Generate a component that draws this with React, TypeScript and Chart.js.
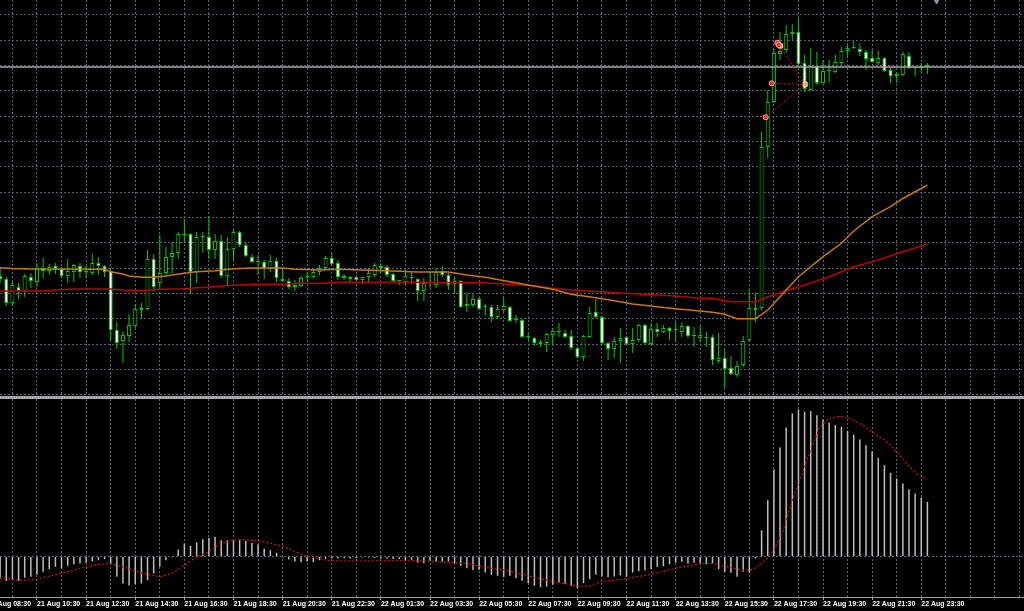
import React, { useEffect, useRef } from 'react';
import { Chart, registerables } from 'chart.js';

Chart.register(...registerables);

// ---------- time axis (15-minute bars; bar index 0 = 21 Aug 09:00) ----------
const LABEL_BARS = [-2, 6, 14, 22, 30, 38, 46, 54, 62, 70, 78, 86, 94, 102, 110, 118, 126, 134, 142, 150];
const TIME_LABELS = [
  '21 Aug 08:30', '21 Aug 10:30', '21 Aug 12:30', '21 Aug 14:30', '21 Aug 16:30',
  '21 Aug 18:30', '21 Aug 20:30', '21 Aug 22:30', '22 Aug 01:30', '22 Aug 03:30',
  '22 Aug 05:30', '22 Aug 07:30', '22 Aug 09:30', '22 Aug 11:30', '22 Aug 13:30',
  '22 Aug 15:30', '22 Aug 17:30', '22 Aug 19:30', '22 Aug 21:30', '22 Aug 23:30',
];

// ---------- candles ----------
const OPEN = [
  1.3120, 1.3117, 1.3093, 1.3109, 1.3105, 1.3119, 1.3114, 1.3128, 1.3125, 1.3130,
  1.3128, 1.3120, 1.3124, 1.3130, 1.3124, 1.3123, 1.3133, 1.3130, 1.3125, 1.3066,
  1.3055, 1.3060, 1.3070, 1.3088, 1.3087, 1.3137, 1.3113, 1.3123, 1.3139, 1.3143,
  1.3162, 1.3162, 1.3124, 1.3159, 1.3159, 1.3146, 1.3155, 1.3120, 1.3147, 1.3164,
  1.3151, 1.3139, 1.3134, 1.3134, 1.3127, 1.3135, 1.3117, 1.3115, 1.3109, 1.3110,
  1.3119, 1.3119, 1.3124, 1.3128, 1.3138, 1.3133, 1.3120, 1.3117, 1.3119, 1.3116,
  1.3119, 1.3121, 1.3130, 1.3129, 1.3122, 1.3115, 1.3114, 1.3118, 1.3117, 1.3105,
  1.3113, 1.3111, 1.3125, 1.3121, 1.3112, 1.3115, 1.3090, 1.3091, 1.3097, 1.3089,
  1.3089, 1.3079, 1.3086, 1.3089, 1.3076, 1.3076, 1.3059, 1.3058, 1.3052, 1.3053,
  1.3061, 1.3064, 1.3063, 1.3060, 1.3048, 1.3039, 1.3059, 1.3084, 1.3079, 1.3053,
  1.3047, 1.3055, 1.3059, 1.3052, 1.3056, 1.3071, 1.3052, 1.3067, 1.3064, 1.3068,
  1.3066, 1.3064, 1.3070, 1.3060, 1.3058, 1.3058, 1.3059, 1.3035, 1.3038, 1.3028,
  1.3021, 1.3031, 1.3056, 1.3086, 1.3088, 1.3249, 1.3294, 1.3342, 1.3346, 1.3362,
  1.3364, 1.3333, 1.3306, 1.3330, 1.3313, 1.3325, 1.3324, 1.3333, 1.3345, 1.3348,
  1.3347, 1.3344, 1.3338, 1.3333, 1.3338, 1.3326, 1.3320, 1.3321, 1.3340, 1.3328,
  1.3328, 1.3331,
];
const HIGH = [
  1.3128, 1.3119, 1.3115, 1.3113, 1.3122, 1.3123, 1.3133, 1.3138, 1.3132, 1.3133,
  1.3129, 1.3137, 1.3132, 1.3133, 1.3130, 1.3142, 1.3139, 1.3131, 1.3126, 1.3074,
  1.3064, 1.3082, 1.3092, 1.3093, 1.3146, 1.3142, 1.3161, 1.3149, 1.3154, 1.3164,
  1.3177, 1.3163, 1.3164, 1.3164, 1.3180, 1.3162, 1.3161, 1.3159, 1.3167, 1.3165,
  1.3153, 1.3142, 1.3141, 1.3136, 1.3141, 1.3138, 1.3128, 1.3118, 1.3116, 1.3120,
  1.3124, 1.3126, 1.3131, 1.3140, 1.3143, 1.3136, 1.3122, 1.3120, 1.3121, 1.3119,
  1.3128, 1.3133, 1.3133, 1.3131, 1.3123, 1.3116, 1.3126, 1.3124, 1.3118, 1.3118,
  1.3124, 1.3128, 1.3130, 1.3123, 1.3118, 1.3116, 1.3103, 1.3102, 1.3099, 1.3092,
  1.3091, 1.3091, 1.3098, 1.3090, 1.3081, 1.3077, 1.3063, 1.3059, 1.3056, 1.3063,
  1.3068, 1.3073, 1.3066, 1.3066, 1.3049, 1.3061, 1.3089, 1.3097, 1.3080, 1.3054,
  1.3059, 1.3068, 1.3060, 1.3068, 1.3072, 1.3072, 1.3073, 1.3073, 1.3071, 1.3069,
  1.3074, 1.3073, 1.3071, 1.3069, 1.3070, 1.3064, 1.3061, 1.3063, 1.3046, 1.3040,
  1.3035, 1.3060, 1.3106, 1.3103, 1.3264, 1.3306, 1.3347, 1.3364, 1.3371, 1.3372,
  1.3378, 1.3341, 1.3348, 1.3344, 1.3336, 1.3336, 1.3341, 1.3349, 1.3353, 1.3355,
  1.3353, 1.3346, 1.3346, 1.3345, 1.3339, 1.3328, 1.3324, 1.3344, 1.3344, 1.3329,
  1.3333, 1.3333,
];
const LOW = [
  1.3113, 1.3090, 1.3090, 1.3097, 1.3099, 1.3108, 1.3109, 1.3118, 1.3121, 1.3122,
  1.3118, 1.3113, 1.3114, 1.3118, 1.3118, 1.3121, 1.3121, 1.3119, 1.3055, 1.3047,
  1.3033, 1.3054, 1.3068, 1.3078, 1.3086, 1.3105, 1.3106, 1.3121, 1.3123, 1.3137,
  1.3153, 1.3102, 1.3113, 1.3143, 1.3137, 1.3137, 1.3118, 1.3111, 1.3136, 1.3149,
  1.3139, 1.3133, 1.3121, 1.3117, 1.3124, 1.3114, 1.3114, 1.3107, 1.3105, 1.3109,
  1.3114, 1.3118, 1.3121, 1.3126, 1.3130, 1.3116, 1.3116, 1.3114, 1.3115, 1.3113,
  1.3114, 1.3119, 1.3123, 1.3119, 1.3114, 1.3111, 1.3111, 1.3114, 1.3095, 1.3095,
  1.3108, 1.3108, 1.3119, 1.3106, 1.3103, 1.3088, 1.3084, 1.3089, 1.3086, 1.3081,
  1.3074, 1.3078, 1.3084, 1.3074, 1.3073, 1.3058, 1.3056, 1.3050, 1.3049, 1.3044,
  1.3051, 1.3059, 1.3058, 1.3046, 1.3038, 1.3035, 1.3058, 1.3078, 1.3051, 1.3036,
  1.3038, 1.3033, 1.3051, 1.3043, 1.3054, 1.3051, 1.3051, 1.3059, 1.3063, 1.3056,
  1.3054, 1.3059, 1.3058, 1.3049, 1.3054, 1.3049, 1.3031, 1.3033, 1.3008, 1.3021,
  1.3019, 1.3029, 1.3054, 1.3074, 1.3086, 1.3238, 1.3293, 1.3336, 1.3343, 1.3356,
  1.3331, 1.3304, 1.3305, 1.3311, 1.3313, 1.3314, 1.3323, 1.3331, 1.3339, 1.3347,
  1.3340, 1.3326, 1.3333, 1.3331, 1.3324, 1.3313, 1.3313, 1.3320, 1.3327, 1.3320,
  1.3324, 1.3322,
];
const CLOSE = [
  1.3117, 1.3093, 1.3111, 1.3105, 1.3120, 1.3115, 1.3128, 1.3125, 1.3129, 1.3127,
  1.3120, 1.3125, 1.3131, 1.3124, 1.3125, 1.3133, 1.3130, 1.3124, 1.3066, 1.3053,
  1.3061, 1.3071, 1.3087, 1.3086, 1.3137, 1.3109, 1.3123, 1.3139, 1.3143, 1.3162,
  1.3161, 1.3124, 1.3159, 1.3159, 1.3146, 1.3155, 1.3120, 1.3147, 1.3164, 1.3151,
  1.3140, 1.3134, 1.3134, 1.3127, 1.3135, 1.3118, 1.3115, 1.3109, 1.3111, 1.3118,
  1.3119, 1.3124, 1.3128, 1.3138, 1.3132, 1.3119, 1.3118, 1.3119, 1.3116, 1.3119,
  1.3123, 1.3131, 1.3128, 1.3121, 1.3115, 1.3115, 1.3120, 1.3118, 1.3105, 1.3113,
  1.3113, 1.3124, 1.3121, 1.3111, 1.3115, 1.3089, 1.3092, 1.3097, 1.3087, 1.3089,
  1.3079, 1.3087, 1.3090, 1.3075, 1.3076, 1.3059, 1.3059, 1.3053, 1.3054, 1.3062,
  1.3065, 1.3064, 1.3059, 1.3048, 1.3039, 1.3060, 1.3083, 1.3079, 1.3053, 1.3047,
  1.3055, 1.3058, 1.3052, 1.3056, 1.3071, 1.3053, 1.3067, 1.3064, 1.3068, 1.3065,
  1.3066, 1.3070, 1.3060, 1.3060, 1.3061, 1.3059, 1.3036, 1.3038, 1.3027, 1.3022,
  1.3030, 1.3055, 1.3088, 1.3088, 1.3249, 1.3294, 1.3343, 1.3345, 1.3362, 1.3364,
  1.3332, 1.3307, 1.3330, 1.3313, 1.3325, 1.3325, 1.3334, 1.3345, 1.3348, 1.3348,
  1.3344, 1.3337, 1.3334, 1.3338, 1.3325, 1.3320, 1.3322, 1.3342, 1.3328, 1.3328,
  1.3330, 1.3329,
];
const BID = 1.3329;

// ---------- moving averages (sampled along the lines) ----------
const MA_FAST_BARS = [0, 2, 5, 17, 18, 20, 21, 23, 25, 27, 29, 32, 35, 38, 41, 46, 48, 52, 55, 63, 68, 73, 76, 79, 83, 86, 90, 93, 97, 100, 103, 107, 110, 114, 116, 118, 120, 123, 125, 127, 130, 134, 137, 139, 142, 145, 147, 151];
const MA_FAST = [
  1.31283, 1.31275, 1.3127, 1.31267, 1.31243, 1.3122, 1.312, 1.31187, 1.31187, 1.312,
  1.3122, 1.31243, 1.31253, 1.31273, 1.3128, 1.3128, 1.31267, 1.3126, 1.31267, 1.31253,
  1.3124, 1.3124, 1.3121, 1.31187, 1.31143, 1.3111, 1.31067, 1.31017, 1.30983, 1.30953,
  1.3092, 1.30893, 1.30873, 1.3085, 1.30837, 1.30817, 1.30773, 1.30773, 1.3086, 1.30993,
  1.31193, 1.31393, 1.31527, 1.3165, 1.31793, 1.31893, 1.31975, 1.3211,
];
const MA_SLOW_BARS = [0, 7, 9, 12, 18, 20, 23, 26, 30, 32, 35, 38, 41, 46, 49, 53, 55, 69, 72, 78, 80, 83, 87, 90, 93, 98, 101, 105, 110, 114, 116, 119, 123, 125, 127, 131, 135, 139, 143, 147, 151];
const MA_SLOW = [
  1.3105, 1.3105, 1.3106, 1.3107, 1.3107, 1.3106, 1.31053, 1.31067, 1.31073, 1.31083,
  1.31093, 1.31107, 1.31117, 1.31117, 1.31127, 1.31127, 1.31137, 1.31137, 1.31133, 1.31133,
  1.31127, 1.31117, 1.311, 1.31077, 1.3106, 1.31043, 1.3103, 1.31017, 1.31, 1.30977,
  1.30977, 1.30943, 1.30943, 1.30993, 1.31033, 1.3111, 1.31193, 1.31293, 1.3136, 1.31443,
  1.31517,
];

// ---------- trade history marks ----------
const TRADE_OPEN_BAR = [124.66, 125.64, 126.56, 126.8];
const TRADE_OPEN_PRICE = [1.32787, 1.33127, 1.33533, 1.3351];
const TRADE_CLOSE_BAR = [131.1, 131.1, 131.1, 127.1];
const TRADE_CLOSE_PRICE = [1.33117, 1.33117, 1.33117, 1.335];
const SHIFT_MARK_BAR = 152.5;

// ---------- MACD (points) ----------
const MACD_HIST = [
  -22, -24.3, -23, -24.3, -21.3, -20.3, -18, -15.3, -12.7, -10.3,
  -12, -9.3, -7.7, -7, -6.3, -4.7, -3.7, -2.7, -7.7, -20.3,
  -27, -29, -27.7, -27, -23.7, -17, -10.3, -3.7, -1, 7,
  13, 10.7, 14, 17.3, 18.7, 19.7, 16.3, 16.3, 15.7, 17,
  15.7, 13.7, 12.3, 7.7, 6.3, 3.7, -1, -3, -5, -5.7,
  -5, -5.7, -3.7, -2.3, -1.7, -2, -1.7, -2, -1.7, -1,
  -1, -1.3, -2, -2, -2.5, -2.5, -4, -3.3, -6, -6.7,
  -4.3, -5, -5, -5, -6.7, -9.3, -11.7, -13.3, -13.3, -16,
  -18.3, -19.3, -20.7, -19.3, -21.7, -24.3, -26.7, -29.3, -30.7, -30,
  -28.3, -26, -27.3, -29.3, -31.7, -26.7, -22.7, -18.3, -20, -20.7,
  -20, -19, -20.5, -16, -14.7, -13.7, -12.7, -10.3, -9.7, -7.7,
  -6, -5.3, -7, -6.3, -7, -7.7, -7, -12.7, -15.3, -16.3,
  -20.3, -15.3, -16.3, -2, 26.3, 56.3, 87, 109, 129, 143,
  147, 144.7, 145.3, 141.3, 137, 134, 131.3, 129.7, 125.7, 122,
  117, 111.3, 105.3, 98.7, 91.3, 83.7, 78, 73, 67.3, 63,
  59, 54.7,
];
const SIGNAL_BARS = [0, 3, 6, 8, 11, 13.5, 16, 18, 20, 23, 26, 28, 30, 32, 34, 36, 38, 40, 43, 46, 49, 51, 53, 57, 60, 64, 67, 70, 74, 76.5, 79, 82, 84.7, 87.4, 90, 93, 94.4, 96, 98, 101, 104, 107, 110, 114, 116, 118, 121, 122.6, 124.3, 126, 127.5, 129, 131, 132.4, 133.5, 135, 136.8, 138.4, 140, 142, 144.4, 146, 147.6, 149.2, 151];
const SIGNAL = [
  -21, -23.7, -23, -19.7, -15.3, -11, -8, -7, -10.3, -16.3,
  -20.3, -17, -8.7, -0.3, 5, 13, 16.3, 17, 14.7, 10.3,
  2.3, -1, -3.7, -4.7, -4.3, -4, -4, -5, -6, -7.7,
  -10.7, -13.3, -17.3, -21.7, -25, -28.3, -30, -29.3, -25, -23,
  -20, -16.3, -12, -7, -7, -9.7, -13.7, -13, -5.3, 6.3,
  26.3, 56.3, 89.7, 113, 129.7, 138, 140.3, 138, 133, 124.7,
  114.7, 104.7, 93, 83, 77,
];

// ---------- view / styling ----------
const X_MIN = -0.0244;
const X_MAX = 166.73;
const PRICE_MIN = 1.3;
const PRICE_MAX = 1.3396;
const MACD_MIN = -40.5;
const MACD_MAX = 157.5;
const GRID_COLOR = 'rgb(88,98,114)';
const GRID_DASH = [2, 2];
const CANDLE_GREEN = '#00cc00';
const FONT = 'Liberation Sans';

const HOUR_GRID_BARS = Array.from({ length: 43 }, (_, k) => -2 + 4 * k);
const PRICE_GRID = Array.from({ length: 16 }, (_, k) => 1.3381 - 0.0025333 * k);
const LABEL_AT = new Map<number, string>(LABEL_BARS.map((b, k) => [b, TIME_LABELS[k]]));

export default function App() {
  const mainRef = useRef<HTMLCanvasElement>(null);
  const macdRef = useRef<HTMLCanvasElement>(null);

  useEffect(() => {
    document.body.style.margin = '0';
    document.body.style.background = '#000';
    Chart.defaults.font.family = FONT;

    const idx = OPEN.map((_, i) => i);
    const xGrid = (s: any) => {
      s.ticks = HOUR_GRID_BARS.map((v) => ({ value: v }));
    };

    const tradeLines = TRADE_OPEN_BAR.map((b, k) => ({
      type: 'line',
      data: [
        { x: b, y: TRADE_OPEN_PRICE[k] },
        { x: TRADE_CLOSE_BAR[k], y: TRADE_CLOSE_PRICE[k] },
      ],
      borderColor: '#d01010',
      borderWidth: 1,
      borderDash: [2, 2],
      pointRadius: 0,
      order: 1,
    }));

    const main = new Chart(mainRef.current as HTMLCanvasElement, {
      type: 'bar',
      data: {
        datasets: [
          {
            type: 'line',
            data: [{ x: SHIFT_MARK_BAR, y: PRICE_MAX }],
            showLine: false,
            pointStyle: 'triangle',
            rotation: 180,
            pointRadius: 4,
            pointBackgroundColor: '#8a96a6',
            pointBorderColor: '#8a96a6',
            order: 0,
          },
          {
            type: 'line',
            data: TRADE_OPEN_BAR.map((b, k) => ({ x: b, y: TRADE_OPEN_PRICE[k] })),
            showLine: false,
            pointStyle: 'circle',
            pointRadius: 2.6,
            pointBackgroundColor: '#ff2424',
            pointBorderColor: '#ffc8c8',
            pointBorderWidth: 0.8,
            order: 0,
          },
          {
            type: 'line',
            data: [
              { x: TRADE_CLOSE_BAR[0], y: TRADE_CLOSE_PRICE[0] },
              { x: TRADE_CLOSE_BAR[3], y: TRADE_CLOSE_PRICE[3] },
            ],
            showLine: false,
            pointStyle: 'rect',
            pointRadius: 3,
            pointBackgroundColor: '#ffa040',
            pointBorderColor: '#ffe0b0',
            pointBorderWidth: 0.8,
            order: 0,
          },
          ...tradeLines,
          {
            type: 'line',
            data: MA_FAST_BARS.map((b, k) => ({ x: b, y: MA_FAST[k] })),
            borderColor: '#c8780f',
            borderWidth: 1.5,
            pointRadius: 0,
            order: 2,
          },
          {
            type: 'line',
            data: MA_SLOW_BARS.map((b, k) => ({ x: b, y: MA_SLOW[k] })),
            borderColor: '#b80000',
            borderWidth: 1.5,
            pointRadius: 0,
            order: 2,
          },
          {
            type: 'line',
            data: [
              { x: X_MIN, y: BID },
              { x: X_MAX, y: BID },
            ],
            borderColor: '#a4a4a4',
            borderWidth: 1.5,
            pointRadius: 0,
            order: 3,
          },
          {
            type: 'bar',
            data: idx.map((i) => ({ x: i, y: [OPEN[i], CLOSE[i]] })),
            backgroundColor: idx.map((i) => (CLOSE[i] < OPEN[i] ? '#ffffff' : '#000000')),
            borderColor: CANDLE_GREEN,
            borderWidth: 1,
            borderSkipped: false,
            grouped: false,
            maxBarThickness: 4,
            minBarLength: 1,
            order: 4,
          },
          {
            type: 'bar',
            data: idx.map((i) => ({ x: i, y: [LOW[i], HIGH[i]] })),
            backgroundColor: CANDLE_GREEN,
            borderWidth: 0,
            grouped: false,
            maxBarThickness: 1,
            order: 5,
          },
        ] as any,
      },
      options: {
        responsive: false,
        animation: false,
        devicePixelRatio: 1,
        events: [],
        layout: { padding: 0, autoPadding: false },
        plugins: { legend: { display: false }, tooltip: { enabled: false } },
        scales: {
          x: {
            type: 'linear',
            min: X_MIN,
            max: X_MAX,
            offset: false,
            afterBuildTicks: xGrid,
            afterFit: (s: any) => {
              s.height = 0;
              s.paddingLeft = 0;
              s.paddingRight = 0;
            },
            ticks: { display: false },
            grid: { color: GRID_COLOR, lineWidth: 1, drawTicks: false, offset: false },
            border: { display: false, dash: GRID_DASH },
          },
          y: {
            type: 'linear',
            min: PRICE_MIN,
            max: PRICE_MAX,
            stacked: false,
            afterBuildTicks: (s: any) => {
              s.ticks = PRICE_GRID.map((v) => ({ value: v }));
            },
            afterFit: (s: any) => {
              s.width = 0;
            },
            ticks: { display: false },
            grid: { color: GRID_COLOR, lineWidth: 1, drawTicks: false },
            border: { display: false, dash: GRID_DASH },
          },
        } as any,
      },
    });

    const macd = new Chart(macdRef.current as HTMLCanvasElement, {
      type: 'bar',
      data: {
        datasets: [
          {
            type: 'line',
            data: SIGNAL_BARS.map((b, k) => ({ x: b, y: SIGNAL[k] })),
            borderColor: '#d01010',
            borderWidth: 1.2,
            borderDash: [2, 2],
            pointRadius: 0,
            order: 0,
          },
          {
            type: 'bar',
            data: idx.map((i) => ({ x: i, y: MACD_HIST[i] })),
            backgroundColor: '#bdbdbd',
            borderWidth: 0,
            grouped: false,
            maxBarThickness: 1.5,
            order: 1,
          },
        ] as any,
      },
      options: {
        responsive: false,
        animation: false,
        devicePixelRatio: 1,
        events: [],
        layout: { padding: 0, autoPadding: false },
        plugins: { legend: { display: false }, tooltip: { enabled: false } },
        scales: {
          x: {
            type: 'linear',
            min: X_MIN,
            max: X_MAX,
            offset: false,
            afterBuildTicks: xGrid,
            afterFit: (s: any) => {
              s.height = 14;
              s.paddingLeft = 0;
              s.paddingRight = 0;
            },
            ticks: {
              display: true,
              autoSkip: false,
              maxRotation: 0,
              minRotation: 0,
              align: 'start',
              padding: 0,
              color: '#ffffff',
              font: { family: FONT, size: 7, weight: 'bold' },
              callback: (v: any) => LABEL_AT.get(v) ?? '',
            },
            grid: {
              color: GRID_COLOR,
              lineWidth: 1,
              offset: false,
              drawTicks: true,
              tickLength: 3,
              tickWidth: 1,
              tickColor: (ctx: any) =>
                ctx.tick && LABEL_AT.has(ctx.tick.value) ? '#a8a8a8' : 'rgba(0,0,0,0)',
            },
            border: { display: true, color: '#a0a0a0', width: 1, dash: GRID_DASH },
          },
          y: {
            type: 'linear',
            min: MACD_MIN,
            max: MACD_MAX,
            stacked: false,
            afterBuildTicks: (s: any) => {
              s.ticks = [{ value: 0 }];
            },
            afterFit: (s: any) => {
              s.width = 0;
            },
            ticks: { display: false },
            grid: { color: GRID_COLOR, lineWidth: 1, drawTicks: false },
            border: { display: false, dash: [2, 2] },
          },
        } as any,
      },
    });

    return () => {
      main.destroy();
      macd.destroy();
    };
  }, []);

  return (
    <div style={{ width: 1024, height: 611, background: '#000', overflow: 'hidden' }}>
      <style>{'html,body{margin:0;padding:0;background:#000;}'}</style>
      <canvas ref={mainRef} width={1024} height={396} style={{ display: 'block', background: '#000' }} />
      <div style={{ height: 3, background: '#a6a6a6' }} />
      <canvas ref={macdRef} width={1024} height={212} style={{ display: 'block', background: '#000' }} />
    </div>
  );
}
